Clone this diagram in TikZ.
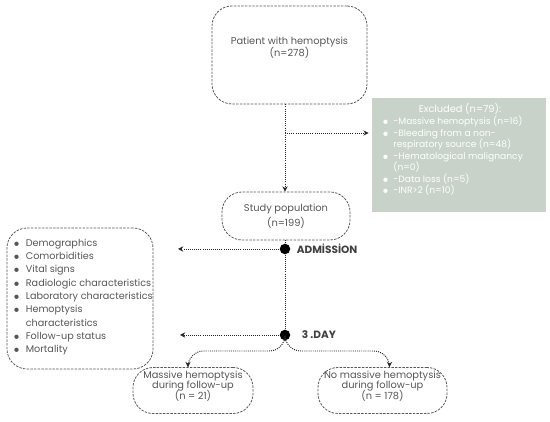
\documentclass[tikz,border=0pt]{standalone}
\usepackage{fontspec}
\setmainfont{Poppins}
\usetikzlibrary{positioning, arrows.meta}

\definecolor{txtgray}{HTML}{555555}
\definecolor{excl}{HTML}{C8D2C8}
\newcommand{\bul}{\makebox[0.3cm][l]{\hspace{0.05cm}\tiny$\bullet$}}
\newcommand{\wbul}{\makebox[0.22cm][l]{\tiny$\bullet$}}
\newcommand{\fsize}[2]{\fontsize{#1}{#2}\selectfont\lineskiplimit=-20pt}

\begin{document}
\begin{tikzpicture}
	[font=\fsize{5.6}{7.6}, text=txtgray,
	 box/.style={draw=black!65, line width=0.45pt, dash pattern=on 1.4pt off 0.7pt, rounded corners=0.4cm, align=center},
	 flow/.style={draw=black!85, line width=0.55pt, dash pattern=on 0.55pt off 0.65pt, -{Stealth[length=3pt,width=3pt]}},
	 link/.style={draw=black!85, line width=0.55pt, dash pattern=on 0.55pt off 0.65pt},
	 dot/.style={circle, fill=black, inner sep=0pt, minimum size=0.21cm},
	 phase/.style={font=\fsize{6}{7}\bfseries, text=black!75}]
   \useasboundingbox (0,0) rectangle (11,8.44);
   \node[box, font=\fsize{5.6}{6.3}, minimum width=3.1cm, minimum height=1.96cm, text depth=0.33cm] (patients) at (5.79,7.34)
      {Patient with hemoptysis\\(n=278)};
   \node[fill=excl, minimum width=3.48cm, minimum height=2.28cm] (excluded) at (9.18,5.34) {};
   \node[text=white, inner sep=0pt] (excltitle) at (9.2,6.26) {Excluded (n=79):};
   \node[text=white, font=\fsize{5.2}{6.55}, align=left, anchor=north west, inner sep=0pt] (excllist) at (7.64,6.12)
      {\wbul-Massive hemoptysis (n=16)\\
       \wbul-Bleeding from a non-\\
       \hspace*{0.22cm}respiratory source (n=48)\\
       \wbul-Hematological malignancy\\
       \hspace*{0.22cm}(n=0)\\
       \wbul-Data loss (n=5)\\
       \wbul-INR>2 (n=10)};
   \node[box, font=\fsize{5.6}{8.2}, minimum width=2.56cm, minimum height=0.96cm] (study) at (5.72,4.12)
      {Study population\\(n=199)};
   \node[dot] (admission) at (5.7,3.46) {};
   \node[phase, right=0cm of admission] (admlabel) {ADMİSSİON};
   \node[dot] (day3) at (5.7,1.74) {};
   \node[phase, right=0.1cm of day3] (daylabel) {3 .DAY};
   \node[box, minimum width=2.92cm, minimum height=2.82cm] (variables) at (1.6,2.47) {};
   \node[font=\fsize{5.5}{7.6}, align=left, anchor=west, inner sep=0pt] (varlist) at (0.21,2.5)
      {\bul Demographics\\
       \bul Comorbidities\\
       \bul Vital signs\\
       \bul Radiologic characteristics\\
       \bul Laboratory characteristics\\
       \bul Hemoptysis\\
       \hspace*{0.3cm}characteristics\\
       \bul Follow-up status\\
       \bul Mortality};
   \node[box, font=\fsize{5.6}{6}, inner ysep=0pt, minimum width=2.4cm, minimum height=0.92cm, text depth=0.22cm] (massive) at (3.86,0.63)
      {Massive hemoptysis\\during follow-up\\(n = 21)};
   \node[box, font=\fsize{5.6}{6}, inner ysep=0pt, minimum width=2.58cm, minimum height=0.92cm, text depth=0.22cm] (nomassive) at (7.65,0.63)
      {No massive hemoptysis\\during follow-up\\(n = 178)};
   \coordinate (branch) at (5.7,5.78);
   \coordinate (admend) at (3.56,3.46);
   \coordinate (dayend) at (3.6,1.74);

   % flow lines
   \draw[link] (patients.south -| branch) -- (branch);
   \draw[flow] (branch) -- (study.north -| branch);
   \draw[flow, shorten >=0.06cm] (branch) -- (excluded.west |- branch);
   \draw[link] (study.south -| admission) -- (admission);
   \draw[link] (admission) -- (day3);
   \draw[flow] (admission) -- (admend);
   \draw[flow] (day3) -- (dayend);
   \draw[flow, rounded corners=9pt] (day3) -- ++(0,-0.32) -| ([xshift=-0.1cm]massive.north);
   \draw[flow, rounded corners=9pt] (day3) -- ++(0,-0.32) -| ([xshift=0.14cm]nomassive.north);

\end{tikzpicture}
\end{document}
